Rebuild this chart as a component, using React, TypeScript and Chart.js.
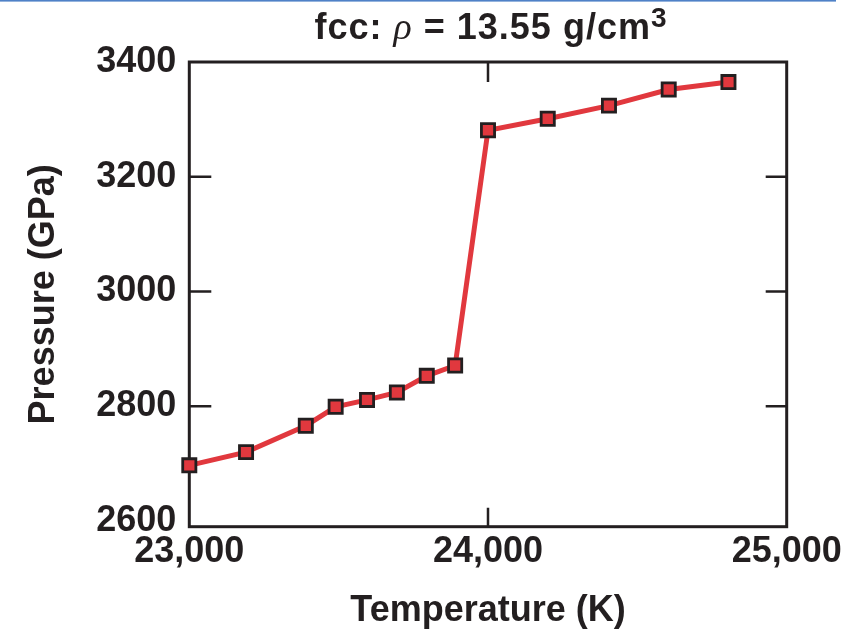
import React, { useEffect, useRef } from "react";
import { Chart, registerables } from "chart.js";

Chart.register(...registerables);

// ---- data ----
const temperatures = [23000, 23190, 23390, 23490, 23595, 23695, 23795, 23890, 24000, 24200, 24405, 24605, 24805];
const pressures = [2697, 2720, 2766, 2799, 2811, 2824, 2853, 2871, 3281, 3301, 3324, 3352, 3365];
const xTickValues = [23000, 24000, 25000];
const yTickValues = [2600, 2800, 3000, 3200, 3400];
const xInnerTicks = [24000];
const yInnerTicks = [2800, 3000, 3200];
const xTitle = "Temperature (K)";
const yTitle = "Pressure (GPa)";
const titleLead = "fcc: ";
const titleSymbol = "ρ";
const titleRest = " = 13.55 g/cm";
const titleSup = "3";

const INK = "#231f20";
const RED = "#e1383e";
const FONT = "'Liberation Sans', Arial, sans-serif";

const W = 846;
const H = 631;
const AREA_LEFT = 189.3;
const AREA_RIGHT = 786.7;
const AREA_TOP = 62;
const AREA_BOTTOM = 526.7;

const framePlugin = {
  id: "frame",
  beforeDatasetsDraw(chart: any) {
    const { ctx, chartArea, scales } = chart;
    const { left, right, top, bottom } = chartArea;
    ctx.save();
    ctx.strokeStyle = INK;
    ctx.lineWidth = 2.5;
    ctx.beginPath();
    for (const v of yInnerTicks) {
      const py = scales.y.getPixelForValue(v);
      ctx.moveTo(left, py);
      ctx.lineTo(left + 22, py);
      ctx.moveTo(right, py);
      ctx.lineTo(right - 21, py);
    }
    for (const v of xInnerTicks) {
      const px = scales.x.getPixelForValue(v);
      ctx.moveTo(px, bottom);
      ctx.lineTo(px, bottom - 19);
      ctx.moveTo(px, top);
      ctx.lineTo(px, top + 20);
    }
    ctx.stroke();
    ctx.lineWidth = 3;
    ctx.strokeRect(left, top, right - left, bottom - top);
    ctx.restore();
  },
  afterDraw(chart: any) {
    const { ctx } = chart;
    ctx.save();
    // thin blue rule at the very top
    ctx.fillStyle = "#4f81c7";
    ctx.fillRect(0, 0, 836, 1.6);
    // mixed-style title
    try {
      (ctx as any).letterSpacing = "1px";
    } catch (e) {}
    const parts = [
      { text: titleLead, font: `bold 36px ${FONT}`, dy: 0 },
      { text: titleSymbol, font: `italic 38px 'Liberation Serif', serif`, dy: 0 },
      { text: titleRest, font: `bold 36px ${FONT}`, dy: 0 },
      { text: titleSup, font: `bold 28px ${FONT}`, dy: -12 },
    ];
    let total = 0;
    const widths: number[] = [];
    for (const p of parts) {
      ctx.font = p.font;
      const w = ctx.measureText(p.text).width;
      widths.push(w);
      total += w;
    }
    let x = 491 - total / 2;
    const baseline = 39;
    ctx.fillStyle = INK;
    ctx.textBaseline = "alphabetic";
    ctx.textAlign = "left";
    parts.forEach((p, i) => {
      ctx.font = p.font;
      ctx.fillText(p.text, x, baseline + p.dy);
      x += widths[i];
    });
    ctx.restore();
  },
};

export default function App() {
  const canvasRef = useRef<HTMLCanvasElement | null>(null);

  useEffect(() => {
    if (!canvasRef.current) return;
    const chart = new Chart(canvasRef.current, {
      type: "line",
      data: {
        datasets: [
          {
            data: temperatures.map((t, i) => ({ x: t, y: pressures[i] })),
            borderColor: RED,
            borderWidth: 5,
            backgroundColor: RED,
            pointStyle: "rect",
            pointRadius: 9.3,
            pointBackgroundColor: RED,
            pointBorderColor: INK,
            pointBorderWidth: 2.8,
            tension: 0,
            clip: false as any,
          },
        ],
      },
      options: {
        responsive: false,
        animation: false,
        events: [],
        layout: {
          padding: { top: AREA_TOP, right: W - AREA_RIGHT, left: 0, bottom: 0 },
        },
        plugins: {
          legend: { display: false },
          tooltip: { enabled: false },
          title: { display: false },
        },
        scales: {
          x: {
            type: "linear",
            min: 23000,
            max: 25000,
            afterBuildTicks: (s: any) => {
              s.ticks = xTickValues.map((value) => ({ value }));
            },
            afterFit: (s: any) => {
              s.height = H - AREA_BOTTOM;
            },
            grid: { display: false, drawTicks: false },
            border: { display: false },
            ticks: {
              color: INK,
              font: { family: FONT, size: 36, weight: "bold" },
              padding: 4,
              maxRotation: 0,
              autoSkip: false,
              callback: (v: any) => Number(v).toLocaleString("en-US"),
            },
            title: {
              display: true,
              text: xTitle,
              color: INK,
              font: { family: FONT, size: 36, weight: "bold" },
              padding: { top: 0, bottom: -2 },
            },
          },
          y: {
            type: "linear",
            min: 2590,
            max: 3400,
            afterBuildTicks: (s: any) => {
              s.ticks = yTickValues.map((value) => ({ value }));
            },
            afterFit: (s: any) => {
              s.width = AREA_LEFT;
            },
            grid: { display: false, drawTicks: false },
            border: { display: false },
            ticks: {
              color: INK,
              font: { family: FONT, size: 36, weight: "bold" },
              padding: 13,
              autoSkip: false,
              callback: (v: any) => String(v),
            },
            title: {
              display: true,
              text: yTitle,
              color: INK,
              font: { family: FONT, size: 36, weight: "bold" },
              padding: { top: 22.4, bottom: 0 },
            },
          },
        },
      },
      plugins: [framePlugin],
    });
    return () => chart.destroy();
  }, []);

  return (
    <div
      style={{
        position: "absolute",
        left: 0,
        top: 0,
        width: W,
        height: H,
        background: "#ffffff",
      }}
    >
      <canvas ref={canvasRef} width={W} height={H} style={{ display: "block" }} />
    </div>
  );
}
